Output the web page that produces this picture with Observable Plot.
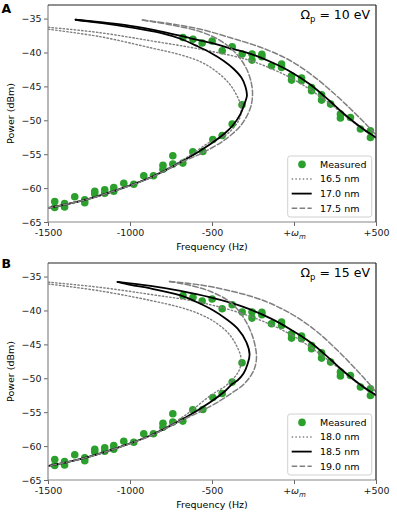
<!DOCTYPE html>
<html><head><meta charset="utf-8">
<script src="https://cdn.jsdelivr.net/npm/d3@7"></script>
<script src="https://cdn.jsdelivr.net/npm/@observablehq/plot@0.6"></script>
<style>
body{margin:0;background:#fff;font-family:"DejaVu Sans",sans-serif;}
#chart{width:397px;}
svg{display:block;}
</style></head><body><div id="chart"></div>
<script>
// Measured data (shared by both panels)
const measuredFreq = [-1462,-1462,-1402,-1402,-1340,-1279,-1279,-1218,-1218,-1157,-1157,-1102,-1102,-1041,-980,-919,-860,-802,-802,-742,-742,-681,-620,-559,-498,-441,-380,-320,
  -680,-619,-563,-502,-441,-380,-319,-259,-259,-199,-199,-140,-79,-79,-18,-18,43,43,104,104,165,165,220,280,280,341,402,463,463];
const measuredPower = [-61.90,-62.79,-62.20,-62.70,-61.21,-61.65,-62.09,-60.40,-60.81,-60.18,-60.69,-59.84,-60.40,-59.22,-59.37,-58.11,-58.11,-56.56,-57.15,-55.16,-56.39,-56.24,-54.57,-54.53,-52.76,-52.17,-50.49,-47.64,
  -37.71,-37.98,-38.54,-38.23,-39.67,-39.08,-40.16,-40.16,-41.05,-40.19,-40.56,-41.89,-41.64,-42.14,-43.36,-44.00,-43.70,-44.10,-45.09,-45.57,-46.16,-46.95,-47.54,-49.01,-49.60,-49.51,-51.22,-51.47,-52.46];

// Panel A model curves [frequency Hz, power dBm]
const a165Top = [[-1500,-36.21],[-1183,-37.02],[-878,-38.20],[-573,-39.45],[-268,-41.15],[-24,-43.66],[159,-46.46],[311,-49.26],[402,-51.03],[500,-52.58]];
const a165Fold = [[-1500,-36.50],[-1183,-37.61],[-878,-39.23],[-695,-40.27],[-573,-41.30],[-482,-42.63],[-402,-44.40],[-354,-46.17],[-329,-47.64],[-326,-48.82],[-341,-50.00],[-372,-51.03],[-421,-52.14],[-512,-53.10],[-677,-55.70],[-878,-58.30],[-1079,-60.15],[-1244,-61.42],[-1366,-62.16],[-1500,-62.83]];
const a170Top = [[-1335,-35.10],[-1183,-35.47],[-1000,-35.99],[-817,-36.80],[-634,-37.83],[-512,-38.49],[-390,-39.31],[-268,-40.12],[-146,-41.30],[-24,-42.77],[98,-44.69],[220,-47.20],[280,-48.52],[341,-49.78],[421,-51.25],[500,-52.51]];
const a170Fold = [[-1335,-35.10],[-1183,-35.55],[-1000,-36.21],[-817,-37.02],[-695,-37.90],[-591,-39.01],[-512,-39.97],[-433,-41.15],[-372,-42.33],[-323,-43.66],[-299,-44.98],[-290,-46.31],[-305,-47.49],[-329,-48.97],[-378,-50.74],[-421,-51.77],[-512,-53.44],[-677,-55.90],[-878,-58.36],[-1079,-60.18],[-1244,-61.43],[-1366,-62.17],[-1500,-62.83]];
const a175Top = [[-927,-35.15],[-756,-35.69],[-573,-36.50],[-390,-37.76],[-207,-39.16],[-24,-41.15],[128,-43.66],[250,-46.17],[341,-48.23],[421,-50.15],[500,-52.14]];
const a175Fold = [[-927,-35.15],[-756,-35.84],[-573,-36.87],[-451,-38.20],[-360,-39.97],[-299,-42.04],[-268,-43.95],[-256,-45.87],[-265,-47.79],[-293,-49.41],[-329,-50.74],[-378,-51.92],[-451,-53.24],[-573,-54.87],[-677,-55.97],[-878,-58.40],[-1079,-60.20],[-1244,-61.45],[-1366,-62.18],[-1500,-62.85]];

// Panel B model curves
const b180Top = [[-1500,-35.75],[-1183,-36.53],[-878,-37.56],[-573,-38.74],[-268,-40.81],[-24,-43.46],[159,-46.41],[311,-49.22],[402,-50.99],[500,-52.61]];
const b180Fold = [[-1500,-36.02],[-1183,-37.05],[-878,-38.45],[-695,-39.48],[-573,-40.51],[-482,-41.69],[-402,-43.32],[-354,-45.09],[-329,-46.56],[-326,-47.74],[-341,-48.92],[-372,-49.95],[-421,-51.06],[-512,-52.46],[-677,-55.56],[-878,-58.30],[-1079,-60.15],[-1244,-61.42],[-1366,-62.16],[-1500,-62.83]];
const b185Top = [[-1079,-35.72],[-878,-36.31],[-695,-37.05],[-512,-38.01],[-329,-39.26],[-146,-41.10],[-24,-42.73],[98,-44.64],[220,-47.15],[280,-48.48],[341,-49.73],[421,-51.21],[500,-52.46]];
const b185Fold = [[-1079,-35.72],[-1000,-36.16],[-878,-36.68],[-695,-37.71],[-604,-38.60],[-494,-39.92],[-421,-41.10],[-348,-42.58],[-293,-44.64],[-274,-46.41],[-287,-47.89],[-311,-49.22],[-348,-50.25],[-378,-50.74],[-421,-51.77],[-512,-53.44],[-677,-55.90],[-878,-58.36],[-1079,-60.18],[-1244,-61.43],[-1366,-62.17],[-1500,-62.83]];
const b190Top = [[-762,-35.65],[-573,-36.16],[-390,-37.05],[-207,-38.30],[-24,-40.37],[128,-42.87],[250,-45.53],[341,-47.74],[421,-49.81],[500,-52.02]];
const b190Fold = [[-762,-35.65],[-634,-36.24],[-512,-37.12],[-390,-38.74],[-311,-40.96],[-262,-43.32],[-238,-45.38],[-232,-47.00],[-244,-48.48],[-274,-49.81],[-317,-50.99],[-378,-52.02],[-451,-53.20],[-573,-54.82],[-677,-56.00],[-878,-58.40],[-1079,-60.20],[-1244,-61.45],[-1366,-62.18],[-1500,-62.85]];

// Ticks & labels
const xTicks = [-1500,-1000,-500,0,500];
const xTickLabels = ["-1500","-1000","-500","+ωm","+500"];
const yTicks = [-65,-60,-55,-50,-45,-40,-35];
const legendA = ["Measured","16.5 nm","17.0 nm","17.5 nm"];
const legendB = ["Measured","18.0 nm","18.5 nm","19.0 nm"];

const styles = {
  dotted: {stroke:"#7f7f7f", strokeWidth:1.4, strokeDasharray:"1.4,2.3"},
  solid: {stroke:"#000", strokeWidth:1.8},
  dashed: {stroke:"#7f7f7f", strokeWidth:1.5, strokeDasharray:"5.5,2.4"}
};
const GREEN = "#2ca02c";

function makePanel(o) {
  const rows = [];
  o.curves.forEach((c, ci) => {
    c.top.forEach(([f,p]) => rows.push({f, p, s:c.style, k:ci+"t"}));
    c.fold.forEach(([f,p]) => rows.push({f, p, s:c.style, k:ci+"f"}));
  });
  const measured = measuredFreq.map((f,i) => ({f, p: measuredPower[i]}));
  const lineMarks = ["dotted","solid","dashed"].map(s =>
    Plot.line(rows.filter(r => r.s === s), {x:"f", y:"p", z:"k", curve:"catmull-rom", clip:true, ...styles[s]}));
  const svg = Plot.plot({
    width: 397, height: 256,
    marginLeft: 48, marginRight: 21, marginTop: o.mt, marginBottom: o.mb,
    x: {domain: [-1500, 500], label: null},
    y: {domain: [-65, -33], label: null},
    style: {fontFamily: '"DejaVu Sans", sans-serif', fontSize: "9.5px", color: "#1a1a1a", background: "transparent"},
    marks: [
      Plot.axisX({ticks: xTicks, tickFormat: d => xTickLabels[xTicks.indexOf(d)], tickSize: 4, tickPadding: 3, stroke: "#666", label: null}),
      Plot.axisY({ticks: yTicks, tickFormat: d3.format("d"), tickSize: 4, tickPadding: 3, stroke: "#666", label: null}),
      Plot.dot(measured, {x:"f", y:"p", r:3.8, fill: GREEN, stroke: "none"}),
      ...lineMarks
    ]
  });
  const xr = svg.scale("x").range, yr = svg.scale("y").range;
  const L = xr[0], R = xr[1], B = yr[0], T = yr[1];
  const s = d3.select(svg);
  // fix +ωm tick
  s.selectAll("text").filter(function(){ return this.textContent === "+ωm"; }).each(function(){
    const t = d3.select(this); t.text("");
    t.append("tspan").text("+");
    t.append("tspan").style("font-style","italic").text("ω");
    t.append("tspan").style("font-style","italic").style("font-size","7px").attr("dy", 2.5).text("m");
  });
  const g = s.append("g").attr("text-anchor","start");
  // spines
  g.append("line").attr("x1",L).attr("x2",L).attr("y1",T).attr("y2",B).attr("stroke","#888").attr("stroke-width",1.2);
  g.append("line").attr("x1",L).attr("x2",R).attr("y1",B).attr("y2",B).attr("stroke","#888").attr("stroke-width",1.2);
  g.append("line").attr("x1",L).attr("x2",R).attr("y1",T).attr("y2",T).attr("stroke","#222").attr("stroke-width",1.2);
  g.append("line").attr("x1",R).attr("x2",R).attr("y1",T).attr("y2",B).attr("stroke","#222").attr("stroke-width",1.2);
  // panel letter
  g.append("text").attr("x",1.5).attr("y",o.letterY).attr("text-anchor","start").style("font-weight","bold").style("font-size","12.5px").attr("fill","#000").text(o.letter);
  // Omega annotation
  const om = g.append("text").attr("x", R-6).attr("y", T+13.8).attr("text-anchor","end").style("font-size","12.5px").attr("fill","#000");
  om.append("tspan").text("Ω");
  om.append("tspan").attr("dy",3).style("font-size","8.5px").text("p");
  om.append("tspan").attr("dy",-3).text(" = " + o.omega + " eV");
  // axis titles
  g.append("text").attr("transform",`translate(13.5,${(T+B)/2}) rotate(-90)`).attr("text-anchor","middle").style("font-size","9.5px").attr("fill","#000").text("Power (dBm)");
  g.append("text").attr("x",(L+R)/2).attr("y",B+28).attr("text-anchor","middle").style("font-size","9.5px").attr("fill","#000").text("Frequency (Hz)");
  // legend
  const lw = 84, lh = 61;
  const lx = R - 4.3 - lw, ly = B - 5 - lh;
  const lg = g.append("g");
  lg.append("rect").attr("x",lx).attr("y",ly).attr("width",lw).attr("height",lh).attr("rx",2.5)
    .attr("fill","white").attr("fill-opacity",0.8).attr("stroke","#d0d0d0").attr("stroke-width",1);
  const kinds = ["dot","dotted","solid","dashed"];
  o.legend.forEach((label, i) => {
    const yy = ly + 8.4 + 14.6*i;
    if (kinds[i] === "dot") {
      lg.append("circle").attr("cx", lx+14.3).attr("cy", yy).attr("r",3.8).attr("fill",GREEN);
    } else {
      const st = styles[kinds[i]];
      lg.append("line").attr("x1",lx+4).attr("x2",lx+24).attr("y1",yy).attr("y2",yy)
        .attr("stroke",st.stroke).attr("stroke-width",st.strokeWidth).attr("stroke-dasharray", st.strokeDasharray || null);
    }
    lg.append("text").attr("x",lx+32.3).attr("y",yy).attr("dy","0.35em").attr("text-anchor","start").style("font-size","9.5px").attr("fill","#000").text(label);
  });
  return svg;
}

const chart = document.getElementById("chart");
chart.appendChild(makePanel({
  letter:"A", letterY:12.7, omega:"10", mt:5, mb:34, legend: legendA,
  curves:[{style:"dotted", top:a165Top, fold:a165Fold},{style:"solid", top:a170Top, fold:a170Fold},{style:"dashed", top:a175Top, fold:a175Fold}]
}));
chart.appendChild(makePanel({
  letter:"B", letterY:12.2, omega:"15", mt:7, mb:32, legend: legendB,
  curves:[{style:"dotted", top:b180Top, fold:b180Fold},{style:"solid", top:b185Top, fold:b185Fold},{style:"dashed", top:b190Top, fold:b190Fold}]
}));
</script></body></html>
